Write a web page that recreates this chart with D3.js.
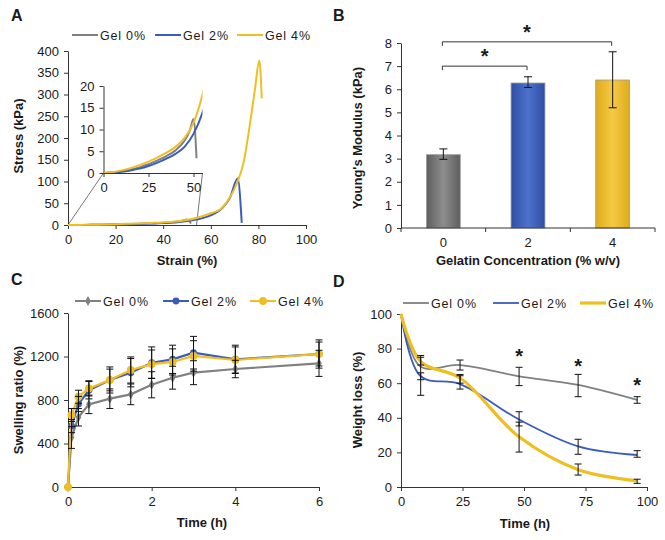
<!DOCTYPE html>
<html>
<head>
<meta charset="utf-8">
<script src="https://cdn.jsdelivr.net/npm/d3@7"></script>
<style>
body { margin: 0; background: #fff; }
text { font-family: "Liberation Sans", Arial, sans-serif; }
</style>
</head>
<body>
<script>
var w = 665;
var h = 540;

var series = ["Gel 0%", "Gel 2%", "Gel 4%"];
var colors = ["#808080", "#3a5cbf", "#efbf22"];

// A: stress-strain
var strain0 = [0, 5, 10, 15, 20, 25, 30, 35, 40, 45, 48, 50, 51.7];
var stress0 = [0, 0.1, 0.4, 0.8, 1.3, 2, 2.9, 3.9, 5.2, 7.4, 9.8, 12.4, 3.4];
var strain2 = [0, 5, 10, 15, 20, 25, 30, 35, 40, 45, 50, 55, 60, 65, 68, 71.3, 73];
var stress2 = [0, 0.1, 0.3, 0.6, 1, 1.6, 2.4, 3.3, 4.4, 6, 9, 13.9, 22, 40, 62, 107, 5];
var strain4 = [0, 5, 10, 15, 20, 25, 30, 35, 40, 45, 50, 55, 60, 64, 67, 71, 73.7, 76.5, 78.5, 80.4, 81.4];
var stress4 = [0, 0.2, 0.6, 1.1, 1.8, 2.6, 3.6, 4.7, 6, 8, 11.5, 18, 27, 36, 55, 96, 142, 234, 310, 378, 291];
var strainTicks = [0, 20, 40, 60, 80, 100];
var stressTicks = [0, 50, 100, 150, 200, 250, 300, 350, 400];
var insetStrainTicks = [0, 25, 50];
var insetStressTicks = [0, 5, 10, 15, 20];

// B: Young's modulus
var gelatin = ["0", "2", "4"];
var modulus = [3.17, 6.27, 6.4];
var modulusLo = [2.97, 6.08, 5.2];
var modulusHi = [3.42, 6.54, 7.62];
var modulusTicks = [0, 1, 2, 3, 4, 5, 6, 7, 8];
var sigPairs = [["0", "2", 7.0], ["0", "4", 8.05]];

// C: swelling ratio
var timeC = [0, 0.083, 0.25, 0.5, 1, 1.5, 2, 2.5, 3, 4, 6];
var swell0 = [0, 455, 641, 760, 812, 852, 940, 1005, 1051, 1085, 1137];
var swell0Err = [0, 100, 80, 85, 90, 95, 120, 105, 110, 80, 120];
var swell2 = [0, 560, 763, 890, 984, 1051, 1143, 1174, 1235, 1174, 1223];
var swell2Err = [0, 60, 70, 80, 120, 130, 145, 130, 150, 130, 130];
var swell4 = [0, 662, 830, 907, 984, 1076, 1130, 1150, 1205, 1168, 1223];
var swell4Err = [0, 60, 60, 70, 100, 120, 130, 120, 140, 120, 110];
var timeCTicks = [0, 2, 4, 6];
var swellTicks = [0, 400, 800, 1200, 1600];

// D: weight loss
var timeD = [0, 8, 24, 48, 72, 96];
var loss0 = [100, 69.5, 70.5, 64, 59, 50.3];
var loss0Lo = [100, 53, 67.6, 58.6, 52.2, 48.4];
var loss0Hi = [100, 76, 73.4, 69.2, 65.1, 52.2];
var loss2 = [100, 64, 59.5, 39, 23.5, 18.5];
var loss2Lo = [100, 62, 56.6, 35.3, 18.9, 17.2];
var loss2Hi = [100, 66, 64.3, 43.5, 27.6, 21];
var loss4 = [100, 72.5, 63, 29, 10, 3.5];
var loss4Lo = [100, 70.5, 60, 20.2, 6.9, 2.1];
var loss4Hi = [100, 75, 65, 37.5, 13.3, 4.5];
var starTimes = [48, 72, 96];
var starLoss = [77, 71, 60];
var timeDTicks = [0, 25, 50, 75, 100];
var lossTicks = [0, 20, 40, 60, 80, 100];

var svg = d3.select("body")
  .append("svg")
  .attr("width", w)
  .attr("height", h);

var ink = "#1a1a1a";

function label(g, x, y, str, o) {
  o = o || {};
  return g.append("text")
    .attr("x", x)
    .attr("y", y)
    .attr("text-anchor", o.anchor || "start")
    .attr("font-size", o.size || 12.5)
    .attr("font-weight", o.bold ? "bold" : null)
    .attr("letter-spacing", o.ls || null)
    .attr("fill", ink)
    .text(str);
}

function vlabel(g, x, y, str) {
  return g.append("text")
    .attr("transform", "translate(" + x + "," + y + ") rotate(-90)")
    .attr("text-anchor", "middle")
    .attr("font-size", 13)
    .attr("font-weight", "bold")
    .attr("fill", ink)
    .text(str);
}

function styleAxis(a) {
  a.select(".domain").attr("stroke", "#333").attr("stroke-width", 1);
  a.selectAll(".tick line").attr("stroke", "#333");
  a.selectAll(".tick text").attr("font-size", 13).attr("fill", ink)
    .attr("font-family", "Liberation Sans, Arial, sans-serif");
}

function axisLeft(scale, x, ticks) {
  var a = svg.append("g")
    .attr("transform", "translate(" + x + ",0)")
    .call(d3.axisLeft(scale).tickValues(ticks).tickFormat(String)
      .tickSize(4).tickSizeOuter(0).tickPadding(5));
  styleAxis(a);
  return a;
}

function axisBottom(scale, y, ticks) {
  var a = svg.append("g")
    .attr("transform", "translate(0," + y + ")")
    .call(d3.axisBottom(scale).tickValues(ticks).tickFormat(String)
      .tickSize(4).tickSizeOuter(0).tickPadding(6));
  styleAxis(a);
  return a;
}

function legend(y, xs, markers, widths) {
  series.forEach(function(s, i) {
    var x0 = xs[i];
    svg.append("line")
      .attr("x1", x0).attr("x2", x0 + 26)
      .attr("y1", y).attr("y2", y)
      .attr("stroke", colors[i])
      .attr("stroke-width", widths ? widths[i] : 2);
    if (markers) {
      svg.append("path")
        .attr("transform", "translate(" + (x0 + 13) + "," + y + ")")
        .attr("d", d3.symbol().type(i == 0 ? d3.symbolDiamond : d3.symbolCircle).size(i == 0 ? 28 : (i == 1 ? 38 : 48))())
        .attr("fill", colors[i]);
    }
    label(svg, x0 + 28, y + 4.5, s, {ls: 0.8});
  });
}

function errBar(x, lo, hi, cap) {
  svg.append("line").attr("x1", x).attr("x2", x).attr("y1", lo).attr("y2", hi)
    .attr("stroke", "#111").attr("stroke-width", 1);
  [lo, hi].forEach(function(v) {
    svg.append("line").attr("x1", x - cap).attr("x2", x + cap).attr("y1", v).attr("y2", v)
      .attr("stroke", "#111").attr("stroke-width", 1);
  });
}

/* ---------- Panel A ---------- */
var xA = d3.scaleLinear().domain([0, 100]).range([68, 306]);
var yA = d3.scaleLinear().domain([0, 400]).range([225, 51]);
var xIn = d3.scaleLinear().domain([0, 55]).range([103.5, 202.5]);
var yIn = d3.scaleLinear().domain([0, 20]).range([173, 86]);

label(svg, 11, 21, "A", {bold: true, size: 16});
legend(35, [72, 155, 237]);

var dataA = [
  d3.zip(strain0, stress0),
  d3.zip(strain2, stress2),
  d3.zip(strain4, stress4)
];

// zoom connectors
svg.append("line").attr("x1", xA(0)).attr("y1", yA(0)).attr("x2", xIn(0)).attr("y2", yIn(0))
  .attr("stroke", "#555").attr("stroke-width", 0.8);
svg.append("line").attr("x1", xA(54)).attr("y1", yA(0)).attr("x2", xIn(55)).attr("y2", yIn(0))
  .attr("stroke", "#555").attr("stroke-width", 0.8);

axisLeft(yA, 68, stressTicks);
axisBottom(xA, 225, strainTicks);

var lineA = d3.line()
  .x(function(d) { return xA(d[0]); })
  .y(function(d) { return yA(d[1]); })
  .curve(d3.curveMonotoneX);

dataA.forEach(function(d, i) {
  svg.append("path").datum(d).attr("d", lineA)
    .attr("fill", "none").attr("stroke", colors[i]).attr("stroke-width", 2);
});

// inset
svg.append("clipPath").attr("id", "insetClip")
  .append("rect").attr("x", xIn(0)).attr("y", yIn(20) - 2)
  .attr("width", xIn(55) - xIn(0)).attr("height", yIn(0) - yIn(20) + 2);

axisLeft(yIn, 103.5, insetStressTicks);
axisBottom(xIn, 173, insetStrainTicks);

var lineIn = d3.line()
  .x(function(d) { return xIn(d[0]); })
  .y(function(d) { return yIn(d[1]); })
  .curve(d3.curveMonotoneX);

dataA.forEach(function(d, i) {
  svg.append("path").datum(d).attr("d", lineIn)
    .attr("clip-path", "url(#insetClip)")
    .attr("fill", "none").attr("stroke", colors[i]).attr("stroke-width", 2);
});

vlabel(svg, 23, 136, "Stress (kPa)");
label(svg, 187, 265, "Strain (%)", {anchor: "middle", bold: true, size: 13});

/* ---------- Panel B ---------- */
var xB = d3.scaleBand().domain(gelatin).range([401, 655]).paddingInner(0.6).paddingOuter(0.3);
var yB = d3.scaleLinear().domain([0, 8]).range([228, 43]);

label(svg, 333, 21, "B", {bold: true, size: 16});

var grads = [["#5e5e5e", "#8e8e8e"], ["#2e4ea3", "#4d71cc"], ["#dfac1a", "#f5c945"]];
var defs = svg.append("defs");
grads.forEach(function(g, i) {
  var lg = defs.append("linearGradient").attr("id", "barGrad" + i)
    .attr("x1", "0%").attr("x2", "100%").attr("y1", "0%").attr("y2", "0%");
  lg.append("stop").attr("offset", "0%").attr("stop-color", g[0]);
  lg.append("stop").attr("offset", "50%").attr("stop-color", g[1]);
  lg.append("stop").attr("offset", "100%").attr("stop-color", g[0]);
});

svg.selectAll("rect.bar")
  .data(gelatin)
  .enter().append("rect")
  .attr("class", "bar")
  .attr("x", function(d) { return xB(d); })
  .attr("width", xB.bandwidth())
  .attr("y", function(d, i) { return yB(modulus[i]); })
  .attr("height", function(d, i) { return yB(0) - yB(modulus[i]); })
  .attr("fill", function(d, i) { return "url(#barGrad" + i + ")"; })
  .attr("stroke", "#9a9a9a")
  .attr("stroke-width", 0.8);

gelatin.forEach(function(g, i) {
  errBar(xB(g) + xB.bandwidth() / 2, yB(modulusLo[i]), yB(modulusHi[i]), 4);
});

var ayB = axisLeft(yB, 401, modulusTicks);
var axB = svg.append("g").attr("transform", "translate(0,228)")
  .call(d3.axisBottom(xB).tickSize(0).tickPadding(10));
styleAxis(axB);
axB.select(".domain").attr("d", "M401,0H655");
// category boundary ticks
var bStep = xB.step();
gelatin.concat(["end"]).forEach(function(d, i) {
  var x = 401 + i * bStep;
  svg.append("line").attr("x1", x).attr("x2", x).attr("y1", 228).attr("y2", 232).attr("stroke", "#333");
});

sigPairs.forEach(function(p) {
  var x1 = xB(p[0]) + xB.bandwidth() / 2 - 1;
  var x2 = xB(p[1]) + xB.bandwidth() / 2 - 1;
  var y = yB(p[2]);
  svg.append("path")
    .attr("d", "M" + x1 + "," + (y + 4) + "V" + y + "H" + x2 + "V" + (y + 4))
    .attr("fill", "none").attr("stroke", "#333").attr("stroke-width", 1);
  label(svg, (x1 + x2) / 2, y - 3, "*", {anchor: "middle", bold: true, size: 20});
});

vlabel(svg, 362, 138, "Young's Modulus (kPa)");
label(svg, 528, 265, "Gelatin Concentration (% w/v)", {anchor: "middle", bold: true, size: 13});

/* ---------- Panel C ---------- */
var xC = d3.scaleLinear().domain([0, 6]).range([68, 319]);
var yC = d3.scaleLinear().domain([0, 1600]).range([487, 313]);

label(svg, 11, 285, "C", {bold: true, size: 16});
legend(301, [75, 163, 250], true);

axisLeft(yC, 68, swellTicks);
axisBottom(xC, 487, timeCTicks);

var swellVals = [swell0, swell2, swell4];
var swellErrs = [swell0Err, swell2Err, swell4Err];
var lineC = d3.line()
  .x(function(d) { return xC(d[0]); })
  .y(function(d) { return yC(d[1]); });

swellVals.forEach(function(v, i) {
  var pts = d3.zip(timeC, v);
  svg.append("path").datum(pts).attr("d", lineC)
    .attr("fill", "none").attr("stroke", colors[i]).attr("stroke-width", 2.2);
  svg.selectAll("path.mk" + i).data(pts).enter().append("path")
    .attr("class", "mk" + i)
    .attr("transform", function(d) { return "translate(" + xC(d[0]) + "," + yC(d[1]) + ")"; })
    .attr("d", d3.symbol().type(i == 0 ? d3.symbolDiamond : d3.symbolCircle).size(i == 0 ? 28 : (i == 1 ? 38 : 48))())
    .attr("fill", colors[i]);
});

swellVals.forEach(function(v, i) {
  timeC.forEach(function(t, j) {
    if (swellErrs[i][j] > 0) {
      errBar(xC(t), yC(v[j] - swellErrs[i][j]), yC(v[j] + swellErrs[i][j]), 3.5);
    }
  });
});

vlabel(svg, 23, 400, "Swelling ratio (%)");
label(svg, 202, 527, "Time (h)", {anchor: "middle", bold: true, size: 13});

/* ---------- Panel D ---------- */
var xD = d3.scaleLinear().domain([0, 100]).range([401, 647]);
var yD = d3.scaleLinear().domain([0, 100]).range([487, 314]);

label(svg, 333, 287, "D", {bold: true, size: 16});
legend(303, [403, 493, 580], false, [1.8, 1.8, 3.2]);

axisLeft(yD, 401, lossTicks);
axisBottom(xD, 487, timeDTicks);

var lossVals = [loss0, loss2, loss4];
var lossLo = [loss0Lo, loss2Lo, loss4Lo];
var lossHi = [loss0Hi, loss2Hi, loss4Hi];
var lineD = d3.line()
  .x(function(d) { return xD(d[0]); })
  .y(function(d) { return yD(d[1]); })
  .curve(d3.curveCatmullRom.alpha(0.5));

var widthsD = [1.8, 1.8, 3.2];
lossVals.forEach(function(v, i) {
  svg.append("path").datum(d3.zip(timeD, v)).attr("d", lineD)
    .attr("fill", "none").attr("stroke", colors[i]).attr("stroke-width", widthsD[i]);
});

lossVals.forEach(function(v, i) {
  timeD.forEach(function(t, j) {
    if (j > 0) errBar(xD(t), yD(lossLo[i][j]), yD(lossHi[i][j]), 3.5);
  });
});

starTimes.forEach(function(t, i) {
  label(svg, xD(t), yD(starLoss[i]) + 9, "*", {anchor: "middle", bold: true, size: 20});
});

vlabel(svg, 362, 400, "Weight loss (%)");
label(svg, 525, 528, "Time (h)", {anchor: "middle", bold: true, size: 13});
</script>
</body>
</html>
